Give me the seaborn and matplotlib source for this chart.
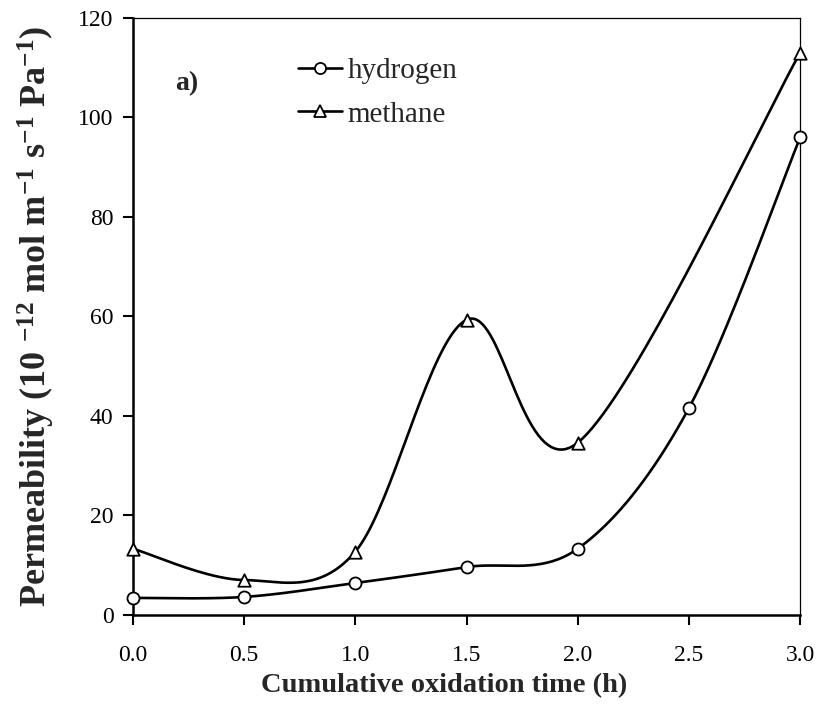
import numpy as np
import pandas as pd
import matplotlib
matplotlib.use("Agg")
import matplotlib.pyplot as plt
from matplotlib.lines import Line2D
import seaborn as sns

# ---- data ----
hyd_time = [0.0, 0.5, 1.0, 1.5, 2.0, 2.5, 3.0]
hyd_perm = [3.4, 3.6, 6.4, 9.6, 13.3, 41.6, 96.0]
met_time = [0.0, 0.5, 1.0, 1.5, 2.0, 3.0]
met_perm = [13.3, 7.0, 12.7, 59.3, 34.6, 113.0]
x_ticks = [0.0, 0.5, 1.0, 1.5, 2.0, 2.5, 3.0]
y_ticks = [0, 20, 40, 60, 80, 100, 120]


def smooth(xs, ys, n=40):
    """Excel-style smoothed line (Catmull-Rom Bezier) through the points."""
    x = np.asarray(xs, float)
    y = np.asarray(ys, float)
    px = np.concatenate([[x[0]], x, [x[-1]]])
    py = np.concatenate([[y[0]], y, [y[-1]]])
    outx, outy = [], []
    for i in range(1, len(px) - 2):
        p0 = np.array([px[i - 1], py[i - 1]])
        p1 = np.array([px[i], py[i]])
        p2 = np.array([px[i + 1], py[i + 1]])
        p3 = np.array([px[i + 2], py[i + 2]])
        c1 = p1 + (p2 - p0) / 6.0
        c2 = p2 - (p3 - p1) / 6.0
        t = np.linspace(0, 1, n)[:, None]
        b = ((1 - t) ** 3) * p1 + 3 * ((1 - t) ** 2) * t * c1 + 3 * (1 - t) * t ** 2 * c2 + t ** 3 * p2
        outx.extend(b[:, 0])
        outy.extend(b[:, 1])
    return pd.DataFrame({"x": outx, "y": outy})


sns.set_theme(style="ticks")
plt.rcParams["font.family"] = ["Liberation Serif", "DejaVu Serif"]
plt.rcParams["mathtext.fontset"] = "custom"
plt.rcParams["mathtext.rm"] = "Liberation Serif:bold"
plt.rcParams["mathtext.bf"] = "Liberation Serif:bold"
plt.rcParams["mathtext.default"] = "bf"

fig = plt.figure(figsize=(8.25, 7.1), dpi=100)
ax = fig.add_axes([0.161, 0.134, 0.809, 0.841])

lw = 1.9
sns.lineplot(data=smooth(hyd_time, hyd_perm), x="x", y="y", sort=False, estimator=None,
             color="black", linewidth=lw, ax=ax)
sns.lineplot(data=smooth(met_time, met_perm), x="x", y="y", sort=False, estimator=None,
             color="black", linewidth=lw, ax=ax)
sns.scatterplot(x=hyd_time, y=hyd_perm, marker="o", s=75, facecolor="white",
                edgecolor="black", linewidth=1.3, ax=ax, zorder=5, clip_on=False)
sns.scatterplot(x=met_time, y=met_perm, marker="^", s=80, facecolor="white",
                edgecolor="black", linewidth=1.3, ax=ax, zorder=5, clip_on=False)

ax.set_xlim(0, 3.0)
ax.set_ylim(0, 120)
ax.set_xticks(x_ticks)
ax.set_xticklabels([f"{v:.1f}" for v in x_ticks])
ax.set_yticks(y_ticks)
ax.set_yticklabels([str(v) for v in y_ticks])
ax.tick_params(axis="both", direction="out", length=7, width=1.5, labelsize=17,
               colors="black")
ax.tick_params(axis="y", pad=7)
ax.tick_params(axis="x", pad=15)
for side in ["left", "bottom"]:
    ax.spines[side].set_linewidth(1.8)
    ax.spines[side].set_color("black")
for side in ["top", "right"]:
    ax.spines[side].set_visible(True)
    ax.spines[side].set_linewidth(0.9)
    ax.spines[side].set_color("black")

ax.set_xlabel("Cumulative oxidation time (h)", fontsize=20.5, fontweight="bold")
ax.xaxis.set_label_coords(0.466, -0.098)
ax.set_ylabel(r"Permeability (10 $^{-12}$ mol m$^{-1}$ s$^{-1}$ Pa$^{-1}$)", fontsize=26,
              fontweight="bold", va="center")
ax.yaxis.set_label_coords(-0.144, 0.5)

ax.text(0.063, 0.89, "a)", transform=ax.transAxes, fontsize=20, fontweight="bold",
        ha="left", va="center")

handles = [
    Line2D([], [], color="black", linewidth=lw, marker="o", markersize=8,
           markerfacecolor="white", markeredgecolor="black", markeredgewidth=1.3),
    Line2D([], [], color="black", linewidth=lw, marker="^", markersize=8,
           markerfacecolor="white", markeredgecolor="black", markeredgewidth=1.3),
]
ax.legend(handles, ["hydrogen", "methane"], loc="upper left", bbox_to_anchor=(0.221, 0.962),
          frameon=False, fontsize=21, handlelength=1.5, handletextpad=0.2,
          labelspacing=0.58, borderaxespad=0.2)

fig.savefig("out.png", dpi=100)
